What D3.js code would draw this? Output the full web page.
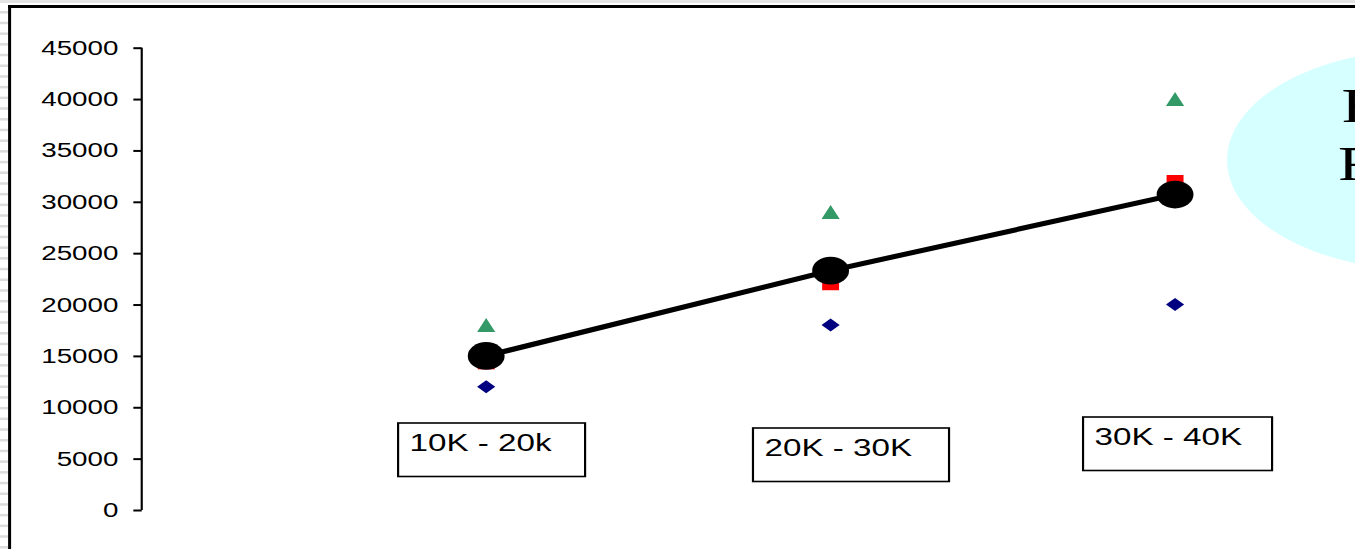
<!DOCTYPE html>
<html>
<head>
<meta charset="utf-8">
<script src="https://cdn.jsdelivr.net/npm/d3@7/dist/d3.min.js"></script>
<style>
  html, body { margin: 0; padding: 0; background: #fff; }
  svg { display: block; }
</style>
</head>
<body>
<svg id="chart" width="1355" height="549"></svg>
<script>
// Salary bands and their summary values
const categories = ["10K - 20k", "20K - 30K", "30K - 40K"];
const highValues = [18000, 29000, 40000];
const lowValues  = [12000, 18000, 20000];
const midValues  = [14300, 22000, 32000];
const meanValues = [15000, 23300, 30700];
const yTicks = [0, 5000, 10000, 15000, 20000, 25000, 30000, 35000, 40000, 45000];
const calloutLines = ["Fitted", "Result"];

const W = 1355, H = 549;
const SX = 1.355; // horizontal stretch of the drawing
const svg = d3.select("#chart");

// page frame: light band on top, dashed strip on the left, heavy border
svg.append("rect").attr("x", 0).attr("y", 0).attr("width", W).attr("height", 3).attr("fill", "#e4e4e4");
svg.append("g").selectAll("rect")
  .data(d3.range(11, H, 10.7))
  .join("rect")
  .attr("x", 0).attr("y", d => d).attr("width", 8).attr("height", 2.5)
  .attr("fill", "#dcdcdc");
svg.append("line").attr("x1", 8).attr("x2", W).attr("y1", 6.5).attr("y2", 6.5)
  .attr("stroke", "#000").attr("stroke-width", 3);
svg.append("line").attr("x1", 9.6).attr("x2", 9.6).attr("y1", 5).attr("y2", H)
  .attr("stroke", "#000").attr("stroke-width", 3);

// callout bubble at the right edge
svg.append("ellipse")
  .attr("cx", 1424).attr("cy", 160).attr("rx", 197).attr("ry", 110)
  .attr("fill", "#d6ffff");
const callout = svg.append("g").attr("transform", "translate(1338,0) scale(" + SX + ",1)");
callout.selectAll("text")
  .data(calloutLines)
  .join("text")
  .attr("x", (d, i) => i === 0 ? 2.5 : 0)
  .attr("y", (d, i) => 122 + i * 58)
  .attr("font-family", "'Liberation Serif', 'Times New Roman', serif")
  .attr("font-size", 48)
  .attr("fill", "#000")
  .text(d => d);

// plot group drawn in unstretched coordinates
const g = svg.append("g").attr("transform", "scale(" + SX + ",1)");

const x0 = 104.6;
const x = d3.scaleLinear().domain([0, 3]).range([x0, x0 + 3 * 254.2]);
const y = d3.scaleLinear().domain([0, 45000]).range([510, 47.7]);

// y axis
const yAxis = d3.axisLeft(y).tickValues(yTicks).tickSize(6.2).tickPadding(11).tickFormat(d3.format("d"));
const ya = g.append("g").attr("transform", "translate(" + x0 + ",0)").call(yAxis);
ya.select(".domain").attr("stroke", "#000").attr("stroke-width", 1.6).attr("d", "M0," + y(45000) + "V" + y(0));
ya.selectAll(".tick line").attr("stroke", "#000").attr("stroke-width", 2);
ya.selectAll(".tick text")
  .attr("font-family", "'Liberation Sans', Arial, sans-serif")
  .attr("font-size", 20.5)
  .attr("fill", "#000");

// category label boxes
const boxOffsets = [
  { dx: -65, top: 423, w: 138 },
  { dx: -57.3, top: 428, w: 144.7 },
  { dx: -67.9, top: 417, w: 139.5 }
];
const boxes = g.append("g").selectAll("g")
  .data(categories)
  .join("g")
  .attr("transform", (d, i) => "translate(" + (x(i + 1) + boxOffsets[i].dx) + "," + boxOffsets[i].top + ")");
boxes.append("rect")
  .attr("width", (d, i) => boxOffsets[i].w).attr("height", 53.5)
  .attr("fill", "#fff").attr("stroke", "#000").attr("stroke-width", 1.6);
boxes.append("text")
  .attr("x", 8.5).attr("y", 28)
  .attr("font-family", "'Liberation Sans', Arial, sans-serif")
  .attr("font-size", 24.5)
  .attr("fill", "#000")
  .text(d => d);

// red markers (mostly behind the mean marker)
g.append("g").selectAll("rect")
  .data(midValues)
  .join("rect")
  .attr("x", (d, i) => x(i + 1) - 6.25).attr("y", d => y(d) - 6.25)
  .attr("width", 12.5).attr("height", 12.5)
  .attr("fill", "#ff0000");

// mean line
const line = d3.line().x((d, i) => x(i + 1)).y(d => y(d));
g.append("path")
  .datum(meanValues)
  .attr("d", line)
  .attr("fill", "none").attr("stroke", "#000").attr("stroke-width", 5);

// mean markers
g.append("g").selectAll("ellipse")
  .data(meanValues)
  .join("ellipse")
  .attr("cx", (d, i) => x(i + 1)).attr("cy", d => y(d))
  .attr("rx", 13.6).attr("ry", 13.8)
  .attr("fill", "#000");

// high markers: triangles
g.append("g").selectAll("path")
  .data(highValues)
  .join("path")
  .attr("transform", (d, i) => "translate(" + x(i + 1) + "," + y(d) + ")")
  .attr("d", "M0,-7L6.7,7L-6.7,7Z")
  .attr("fill", "#339966");

// low markers: diamonds
g.append("g").selectAll("path")
  .data(lowValues)
  .join("path")
  .attr("transform", (d, i) => "translate(" + x(i + 1) + "," + y(d) + ")")
  .attr("d", "M0,-6.5L6.7,0L0,6.5L-6.7,0Z")
  .attr("fill", "#000080");
</script>
</body>
</html>
